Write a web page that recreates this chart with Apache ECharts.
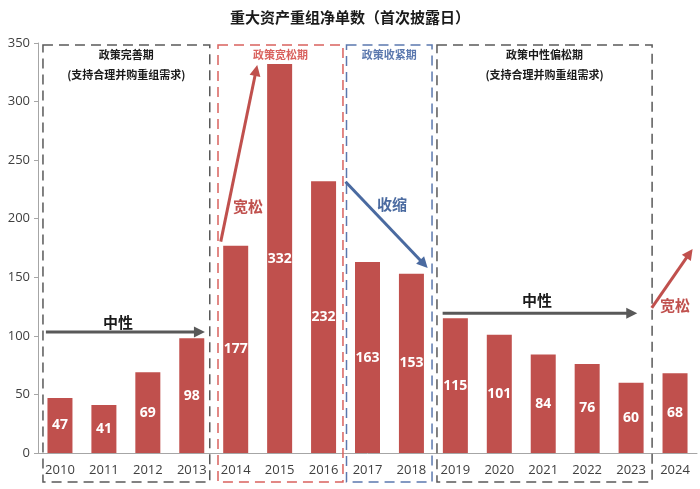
<!DOCTYPE html>
<html><head><meta charset="utf-8">
<script src="https://cdn.jsdelivr.net/npm/echarts@6/dist/echarts.min.js"></script>
<style>html,body{margin:0;padding:0;background:#fff}#c{width:700px;height:489px}</style>
</head><body><div id="c"></div>
<script>
const years = ['2010','2011','2012','2013','2014','2015','2016','2017','2018','2019','2020','2021','2022','2023','2024'];
const counts = [47,41,69,98,177,332,232,163,153,115,101,84,76,60,68];
const yMin = 0, yMax = 350, yStep = 50;
const periodTitles = ['政策完善期','政策宽松期','政策收紧期','政策中性偏松期'];
const periodSubs = ['(支持合理并购重组需求)','','','(支持合理并购重组需求)'];
const periodFrom = [0,4,7,9];
const periodTo = [3,6,8,13];
const trendLabels = ['中性','宽松','收缩','中性','宽松'];

const CJK = '"Noto Sans CJK SC","Noto Sans",sans-serif';
const NUM = '"Open Sans","Noto Sans",sans-serif';
const RED = '#C0504D', GRAY = '#595959', BLUE = '#4A6AA0';

const chart = echarts.init(document.getElementById('c'), null, {renderer:'canvas'});
chart.setOption({
  animation:false,
  backgroundColor:'#fff',
  title:{text:'重大资产重组净单数（首次披露日）', left:'center', top:5,
    textStyle:{fontFamily:CJK, fontSize:15, fontWeight:'bold', color:'#1a1a1a'}},
  grid:{left:38, right:3, top:43, bottom:36, containLabel:false},
  xAxis:{type:'category', data:years,
    axisLine:{lineStyle:{color:'#A6A6A6', width:1}},
    axisTick:{show:false},
    axisLabel:{fontFamily:NUM, fontSize:13, color:'#404040', margin:11}},
  yAxis:{type:'value', min:yMin, max:yMax, interval:yStep,
    axisLine:{show:true, lineStyle:{color:'#A6A6A6'}},
    axisTick:{show:true, length:4, lineStyle:{color:'#A6A6A6'}},
    splitLine:{show:false},
    axisLabel:{fontFamily:NUM, fontSize:13, color:'#404040', margin:8}},
  series:[{type:'bar', data:counts, barWidth:25,
    itemStyle:{color:RED},
    label:{show:true, position:'inside', color:'#fff', fontWeight:'bold', fontSize:14, fontFamily:NUM}}]
});

function px(f){ // float category index -> pixel x
  const a = chart.convertToPixel({xAxisIndex:0}, 0);
  const b = chart.convertToPixel({xAxisIndex:0}, 1);
  return a + f*(b-a);
}
function py(v){ return chart.convertToPixel({yAxisIndex:0}, v); }

const g = [];
const boxColors = [GRAY, '#D9625E', '#5B78AE', GRAY];
const titleColors = ['#1a1a1a', '#D9625E', '#5B78AE', '#1a1a1a'];
const leftOff = [-17, -17.7, -21, -18.4];
const rightOff = [18, 19.4, 20.6, 21];
const boxTop = py(348.3), boxBottom = py(0) + 29;
for (let i=0;i<4;i++){
  const x1 = px(periodFrom[i]) + leftOff[i];
  const x2 = px(periodTo[i]) + rightOff[i];
  g.push({type:'rect', z:100, shape:{x:x1, y:boxTop, width:x2-x1, height:boxBottom-boxTop},
    style:{fill:'none', stroke:boxColors[i], lineWidth:1.5, lineDash:[10,6]}});
  const cx = (x1+x2)/2;
  g.push({type:'text', z:101, x:cx, y:boxTop+10,
    style:{text:periodTitles[i], fill:titleColors[i], font:'bold 11px '+CJK, align:'center', verticalAlign:'middle'}});
  if (periodSubs[i]) g.push({type:'text', z:101, x:cx, y:boxTop+30,
    style:{text:periodSubs[i], fill:'#1a1a1a', font:'bold 11px '+CJK, align:'center', verticalAlign:'middle'}});
}

function arrow(f1,v1,f2,v2,color){
  const x1=px(f1), y1=py(v1), x2=px(f2), y2=py(v2);
  const dx=x2-x1, dy=y2-y1, L=Math.hypot(dx,dy), ux=dx/L, uy=dy/L;
  const hl=11, hw=5.5;
  const bx=x2-ux*hl, by=y2-uy*hl;
  g.push({type:'line', z:102, shape:{x1:x1,y1:y1,x2:bx+ux*1,y2:by+uy*1}, style:{stroke:color, lineWidth:3}});
  g.push({type:'polygon', z:102, shape:{points:[[x2,y2],[bx-uy*hw,by+ux*hw],[bx+uy*hw,by-ux*hw]]}, style:{fill:color}});
}
function label(f,v,text,color){
  g.push({type:'text', z:103, x:px(f), y:py(v),
    style:{text:text, fill:color, font:'bold 15px '+CJK, align:'center', verticalAlign:'middle'}});
}
arrow(-0.32,103.3, 3.30,103.3, GRAY);   label(1.32,111.8, trendLabels[0], '#1a1a1a');
arrow(3.66,180.4, 4.49,331.2, RED);     label(4.28,210.9, trendLabels[1], RED);
arrow(6.50,231.6, 8.37,157.9, BLUE);    label(7.56,212, trendLabels[2], BLUE);
arrow(8.71,119.3, 13.14,119.3, GRAY);   label(10.86,130.6, trendLabels[3], '#1a1a1a');
arrow(13.47,123.8, 14.40,174.2, RED);   label(14.0,126.3, trendLabels[4], RED);

chart.setOption({graphic:{elements:g}});
</script></body></html>
